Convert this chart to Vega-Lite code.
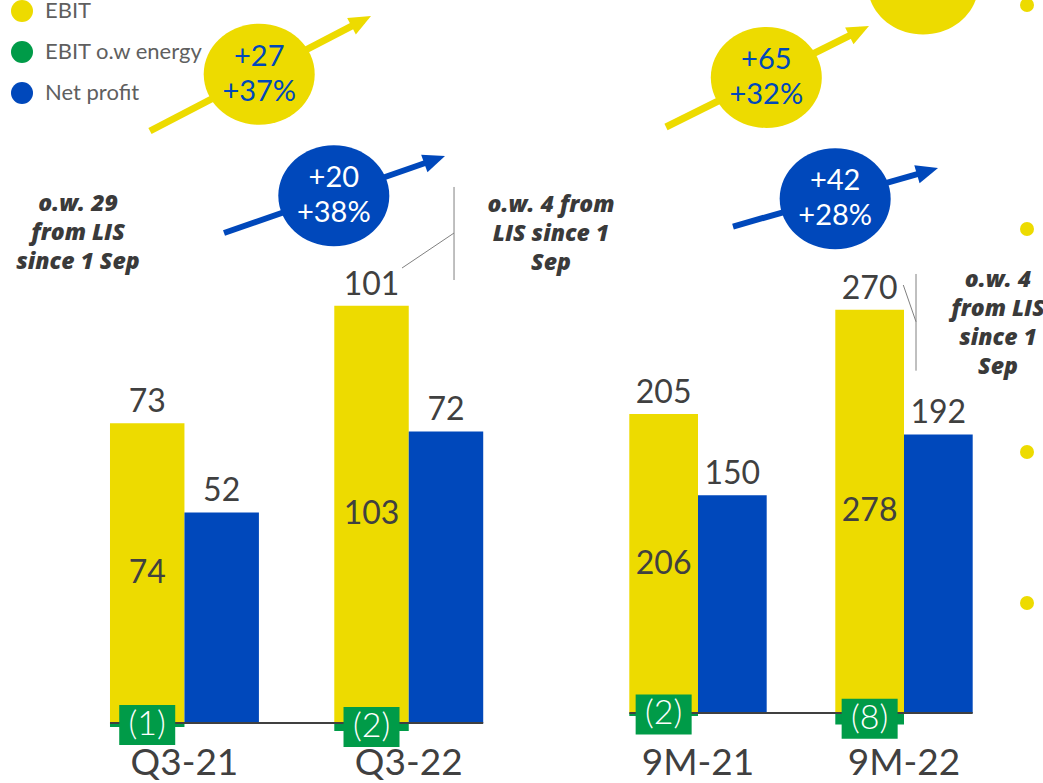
{
  "$schema": "https://vega.github.io/schema/vega-lite/v6.json",
  "background": "white",
  "padding": 0,
  "spacing": 0,
  "bounds": "flush",
  "config": {"view": {"stroke": null}, "font": "Lato", "text": {"font": "Lato"}},
  "resolve": {"scale": {"color": "shared"}, "legend": {"color": "shared"}},
  "datasets": {
    "left": [
      {"period": "Q3-21", "bar": "EBIT", "series": "EBIT", "value": 74, "label": 73},
      {"period": "Q3-21", "bar": "EBIT", "series": "EBIT o.w energy", "value": -1, "label": -1},
      {"period": "Q3-21", "bar": "Net profit", "series": "Net profit", "value": 52, "label": 52},
      {"period": "Q3-22", "bar": "EBIT", "series": "EBIT", "value": 103, "label": 101},
      {"period": "Q3-22", "bar": "EBIT", "series": "EBIT o.w energy", "value": -2, "label": -2},
      {"period": "Q3-22", "bar": "Net profit", "series": "Net profit", "value": 72, "label": 72}
    ],
    "right": [
      {"period": "9M-21", "bar": "EBIT", "series": "EBIT", "value": 206, "label": 205},
      {"period": "9M-21", "bar": "EBIT", "series": "EBIT o.w energy", "value": -2, "label": -2},
      {"period": "9M-21", "bar": "Net profit", "series": "Net profit", "value": 150, "label": 150},
      {"period": "9M-22", "bar": "EBIT", "series": "EBIT", "value": 278, "label": 270},
      {"period": "9M-22", "bar": "EBIT", "series": "EBIT o.w energy", "value": -8, "label": -8},
      {"period": "9M-22", "bar": "Net profit", "series": "Net profit", "value": 192, "label": 192}
    ],
    "leftNotes": [
      {"kind": "arrow", "series": "EBIT", "ax": 24.19, "ay": 16.73, "bx": 58.58, "by": 2.57},
      {"kind": "arrow", "series": "Net profit", "ax": 36.13, "ay": 29.76, "bx": 70.44, "by": 20.31},
      {"kind": "bubble", "series": "EBIT", "ax": 41.81, "ay": 9.48, "text": "+27\n+37%"},
      {"kind": "bubble", "series": "Net profit", "ax": 53.84, "ay": 25.01, "text": "+20\n+38%"},
      {"kind": "note", "ax": 12.58, "ay": 26.05, "text": "o.w. 29\nfrom LIS\nsince 1 Sep"},
      {"kind": "note", "ax": 88.87, "ay": 26.18, "text": "o.w. 4 from\nLIS since 1\nSep"},
      {"kind": "leader", "ax": 73.23, "ay": 23.88, "bx": 73.23, "by": 35.76},
      {"kind": "leader", "ax": 64.84, "ay": 34.23, "bx": 73.23, "by": 29.76}
    ],
    "rightNotes": [
      {"kind": "arrow", "series": "EBIT", "ax": 10.87, "ay": 16.22, "bx": 57.0, "by": 3.83},
      {"kind": "arrow", "series": "Net profit", "ax": 26.71, "ay": 28.93, "bx": 73.19, "by": 21.78},
      {"kind": "bubble", "series": "EBIT", "ax": 34.59, "ay": 9.9, "text": "+65\n+32%"},
      {"kind": "bubble", "series": "Net profit", "ax": 50.87, "ay": 25.39, "text": "+42\n+28%"},
      {"kind": "bubble", "series": "EBIT", "ax": 71.63, "ay": -2.04, "text": ""},
      {"kind": "dot", "ax": 96.22, "ay": 0.64},
      {"kind": "dot", "ax": 96.22, "ay": 29.25},
      {"kind": "dot", "ax": 96.22, "ay": 57.73},
      {"kind": "dot", "ax": 96.22, "ay": 77.01},
      {"kind": "note", "ax": 89.36, "ay": 35.76, "text": "o.w. 4\nfrom LIS\nsince 1\nSep"},
      {"kind": "leader", "ax": 69.98, "ay": 34.99, "bx": 69.98, "by": 47.34},
      {"kind": "leader", "ax": 66.97, "ay": 36.4, "bx": 69.98, "by": 41.09}
    ]
  },
  "hconcat": [
    {
      "width": 620,
      "height": 783,
      "resolve": {"scale": {"x": "independent", "y": "independent", "xOffset": "independent"}},
      "layer": [
        {
          "data": {"name": "left"},
          "layer": [
            {
              "mark": {"type": "bar"},
              "encoding": {
                "x": {"field": "period", "type": "nominal", "scale": {"type": "band", "domain": ["Q3-21", "Q3-22"], "paddingInner": 0.336, "paddingOuter": 0.5501, "align": 0.4457}, "axis": null},
                "xOffset": {"field": "bar", "type": "nominal", "scale": {"type": "band", "domain": ["EBIT", "Net profit"], "paddingInner": 0, "paddingOuter": 0}},
                "y": {"field": "value", "type": "quantitative", "scale": {"domain": [-14.815, 178.52], "nice": false, "zero": false}, "axis": null},
                "color": {"field": "series", "type": "nominal",
                  "scale": {"domain": ["EBIT", "EBIT o.w energy", "Net profit"], "range": ["#EDDB00", "#009B48", "#0048BB"]},
                  "legend": {"orient": "none", "legendX": 11, "legendY": 0, "title": null, "symbolType": "circle", "symbolSize": 484, "symbolStrokeWidth": 0, "labelFontSize": 22, "labelFont": "Lato", "labelColor": "#5f5f5f", "rowPadding": 19, "labelOffset": 12, "padding": 0}}
              }
            },
            {
              "transform": [{"aggregate": [{"op": "count", "as": "n"}]}],
              "mark": {"type": "rule", "color": "#404040", "strokeWidth": 2},
              "encoding": {
                "x": {"datum": "Q3-21", "type": "nominal", "bandPosition": 0, "axis": null},
                "x2": {"datum": "Q3-22", "bandPosition": 1},
                "y": {"datum": 0, "type": "quantitative", "axis": null}
              }
            },
            {
              "transform": [{"filter": "datum.series != 'EBIT o.w energy'"}],
              "mark": {"type": "text", "baseline": "alphabetic", "dy": -11, "fontSize": 32, "color": "#404040"},
              "encoding": {
                "x": {"field": "period", "type": "nominal", "axis": null},
                "xOffset": {"field": "bar", "type": "nominal"},
                "y": {"field": "value", "type": "quantitative", "axis": null},
                "text": {"field": "label", "type": "quantitative"}
              }
            },
            {
              "transform": [{"filter": "datum.series == 'EBIT'"}],
              "mark": {"type": "text", "baseline": "alphabetic", "fontSize": 37, "color": "#404040", "clip": true},
              "encoding": {
                "x": {"field": "period", "type": "nominal", "axis": null},
                "y": {"datum": -12.84, "type": "quantitative", "axis": null},
                "text": {"field": "period", "type": "nominal"}
              }
            }
          ]
        },
        {
          "data": {"name": "left"},
          "encoding": {
            "x": {"field": "period", "type": "nominal", "scale": {"type": "band", "domain": ["Q3-21", "Q3-22"], "paddingInner": 0.336, "paddingOuter": 0.5501, "align": 0.4457}, "axis": null},
            "xOffset": {"field": "bar", "type": "nominal", "scale": {"type": "band", "domain": ["EBIT", "Net profit"], "paddingInner": 0, "paddingOuter": 0}},
            "y": {"field": "value", "type": "quantitative", "scale": {"domain": [-29.63, 357.04], "nice": false, "zero": false}, "axis": null}
          },
          "layer": [
            {
              "transform": [{"filter": "datum.series == 'EBIT'"}],
              "mark": {"type": "text", "baseline": "middle", "fontSize": 32, "color": "#404040"},
              "encoding": {"text": {"field": "value", "type": "quantitative"}}
            },
            {
              "transform": [{"filter": "datum.series == 'EBIT o.w energy'"}],
              "mark": {"type": "point", "shape": "M-1,-0.714L1,-0.714L1,0.714L-1,0.714Z", "size": 3136, "filled": true, "color": "#009B48", "opacity": 1, "strokeWidth": 0}
            },
            {
              "transform": [{"filter": "datum.series == 'EBIT o.w energy'"}],
              "mark": {"type": "text", "baseline": "middle", "fontSize": 34, "fontWeight": 300, "color": "white"},
              "encoding": {"text": {"field": "value", "type": "quantitative", "format": "(d"}}
            }
          ]
        },
        {
          "data": {"name": "leftNotes"},
          "encoding": {
            "x": {"field": "ax", "type": "quantitative", "scale": {"domain": [0, 100], "nice": false, "zero": false}, "axis": null},
            "y": {"field": "ay", "type": "quantitative", "scale": {"domain": [0, 100], "reverse": true, "nice": false, "zero": false}, "axis": null}
          },
          "layer": [
            {
              "transform": [{"filter": "datum.kind == 'arrow' && datum.series == 'EBIT'"}],
              "mark": {"type": "rule", "color": "#EDDB00", "strokeWidth": 7},
              "encoding": {"x2": {"field": "bx"}, "y2": {"field": "by"}}
            },
            {
              "transform": [{"filter": "datum.kind == 'arrow' && datum.series == 'Net profit'"}],
              "mark": {"type": "rule", "color": "#0048BB", "strokeWidth": 6},
              "encoding": {"x2": {"field": "bx"}, "y2": {"field": "by"}}
            },
            {
              "transform": [{"filter": "datum.kind == 'arrow' && datum.series == 'EBIT'"}],
              "mark": {"type": "point", "shape": "M0.8,0L-1.2,-0.85L-1.2,0.85Z", "size": 484, "filled": true, "color": "#EDDB00", "opacity": 1, "strokeWidth": 0, "angle": 332.32},
              "encoding": {
                "x": {"field": "bx", "type": "quantitative", "axis": null},
                "y": {"field": "by", "type": "quantitative", "axis": null}
              }
            },
            {
              "transform": [{"filter": "datum.kind == 'arrow' && datum.series == 'Net profit'"}],
              "mark": {"type": "point", "shape": "M0.8,0L-1.2,-0.85L-1.2,0.85Z", "size": 484, "filled": true, "color": "#0048BB", "opacity": 1, "strokeWidth": 0, "angle": 340.27},
              "encoding": {
                "x": {"field": "bx", "type": "quantitative", "axis": null},
                "y": {"field": "by", "type": "quantitative", "axis": null}
              }
            },
            {
              "transform": [{"filter": "datum.kind == 'bubble' && datum.series == 'EBIT'"}],
              "mark": {"type": "point", "shape": "M-1,0C-1,-0.5026,-0.5523,-0.91,0,-0.91C0.5523,-0.91,1,-0.5026,1,0C1,0.5026,0.5523,0.91,0,0.91C-0.5523,0.91,-1,0.5026,-1,0Z", "size": 12321, "filled": true, "color": "#EDDB00", "opacity": 1, "strokeWidth": 0}
            },
            {
              "transform": [{"filter": "datum.kind == 'bubble' && datum.series == 'Net profit'"}],
              "mark": {"type": "point", "shape": "M-1,0C-1,-0.5026,-0.5523,-0.91,0,-0.91C0.5523,-0.91,1,-0.5026,1,0C1,0.5026,0.5523,0.91,0,0.91C-0.5523,0.91,-1,0.5026,-1,0Z", "size": 12321, "filled": true, "color": "#0048BB", "opacity": 1, "strokeWidth": 0}
            },
            {
              "transform": [{"filter": "datum.kind == 'bubble' && datum.series == 'EBIT'"}],
              "mark": {"type": "text", "baseline": "middle", "align": "center", "fontSize": 29, "lineBreak": "\n", "lineHeight": 35, "dy": -17.5, "color": "#0048BB"},
              "encoding": {"text": {"field": "text", "type": "nominal"}}
            },
            {
              "transform": [{"filter": "datum.kind == 'bubble' && datum.series == 'Net profit'"}],
              "mark": {"type": "text", "baseline": "middle", "align": "center", "fontSize": 29, "lineBreak": "\n", "lineHeight": 35, "dy": -17.5, "color": "white"},
              "encoding": {"text": {"field": "text", "type": "nominal"}}
            },
            {
              "transform": [{"filter": "datum.kind == 'note'"}],
              "mark": {"type": "text", "baseline": "middle", "align": "center", "font": "Open Sans", "fontSize": 23, "fontWeight": 800, "fontStyle": "italic", "lineBreak": "\n", "lineHeight": 29, "color": "#3a3a3a"},
              "encoding": {"text": {"field": "text", "type": "nominal"}}
            },
            {
              "transform": [{"filter": "datum.kind == 'leader'"}],
              "mark": {"type": "rule", "color": "#808080", "strokeWidth": 1},
              "encoding": {"x2": {"field": "bx"}, "y2": {"field": "by"}}
            }
          ]
        }
      ]
    },
    {
      "width": 423,
      "height": 783,
      "resolve": {"scale": {"x": "independent", "y": "independent", "xOffset": "independent"}},
      "layer": [
        {
          "data": {"name": "right"},
          "layer": [
            {
              "mark": {"type": "bar"},
              "encoding": {
                "x": {"field": "period", "type": "nominal", "scale": {"type": "band", "domain": ["9M-21", "9M-22"], "paddingInner": 0.333, "paddingOuter": 0.1932, "align": 0.1168}, "axis": null},
                "xOffset": {"field": "bar", "type": "nominal", "scale": {"type": "band", "domain": ["EBIT", "Net profit"], "paddingInner": 0, "paddingOuter": 0}},
                "y": {"field": "value", "type": "quantitative", "scale": {"domain": [-48.24, 491.39], "nice": false, "zero": false}, "axis": null},
                "color": {"field": "series", "type": "nominal",
                  "scale": {"domain": ["EBIT", "EBIT o.w energy", "Net profit"], "range": ["#EDDB00", "#009B48", "#0048BB"]},
                  "legend": {"orient": "none", "legendX": 11, "legendY": 0, "title": null, "symbolType": "circle", "symbolSize": 484, "symbolStrokeWidth": 0, "labelFontSize": 22, "labelFont": "Lato", "labelColor": "#5f5f5f", "rowPadding": 19, "labelOffset": 12, "padding": 0}}
              }
            },
            {
              "transform": [{"aggregate": [{"op": "count", "as": "n"}]}],
              "mark": {"type": "rule", "color": "#404040", "strokeWidth": 2},
              "encoding": {
                "x": {"datum": "9M-21", "type": "nominal", "bandPosition": 0, "axis": null},
                "x2": {"datum": "9M-22", "bandPosition": 1},
                "y": {"datum": 0, "type": "quantitative", "axis": null}
              }
            },
            {
              "transform": [{"filter": "datum.series != 'EBIT o.w energy'"}],
              "mark": {"type": "text", "baseline": "alphabetic", "dy": -11, "fontSize": 32, "color": "#404040"},
              "encoding": {
                "x": {"field": "period", "type": "nominal", "axis": null},
                "xOffset": {"field": "bar", "type": "nominal"},
                "y": {"field": "value", "type": "quantitative", "axis": null},
                "text": {"field": "label", "type": "quantitative"}
              }
            },
            {
              "transform": [{"filter": "datum.series == 'EBIT'"}],
              "mark": {"type": "text", "baseline": "alphabetic", "fontSize": 37, "color": "#404040", "clip": true},
              "encoding": {
                "x": {"field": "period", "type": "nominal", "axis": null},
                "y": {"datum": -42.73, "type": "quantitative", "axis": null},
                "text": {"field": "period", "type": "nominal"}
              }
            }
          ]
        },
        {
          "data": {"name": "right"},
          "encoding": {
            "x": {"field": "period", "type": "nominal", "scale": {"type": "band", "domain": ["9M-21", "9M-22"], "paddingInner": 0.333, "paddingOuter": 0.1932, "align": 0.1168}, "axis": null},
            "xOffset": {"field": "bar", "type": "nominal", "scale": {"type": "band", "domain": ["EBIT", "Net profit"], "paddingInner": 0, "paddingOuter": 0}},
            "y": {"field": "value", "type": "quantitative", "scale": {"domain": [-96.48, 982.78], "nice": false, "zero": false}, "axis": null}
          },
          "layer": [
            {
              "transform": [{"filter": "datum.series == 'EBIT'"}],
              "mark": {"type": "text", "baseline": "middle", "fontSize": 32, "color": "#404040"},
              "encoding": {"text": {"field": "value", "type": "quantitative"}}
            },
            {
              "transform": [{"filter": "datum.series == 'EBIT o.w energy'"}],
              "mark": {"type": "point", "shape": "M-1,-0.714L1,-0.714L1,0.714L-1,0.714Z", "size": 3136, "filled": true, "color": "#009B48", "opacity": 1, "strokeWidth": 0}
            },
            {
              "transform": [{"filter": "datum.series == 'EBIT o.w energy'"}],
              "mark": {"type": "text", "baseline": "middle", "fontSize": 34, "fontWeight": 300, "color": "white"},
              "encoding": {"text": {"field": "value", "type": "quantitative", "format": "(d"}}
            }
          ]
        },
        {
          "data": {"name": "rightNotes"},
          "encoding": {
            "x": {"field": "ax", "type": "quantitative", "scale": {"domain": [0, 100], "nice": false, "zero": false}, "axis": null},
            "y": {"field": "ay", "type": "quantitative", "scale": {"domain": [0, 100], "reverse": true, "nice": false, "zero": false}, "axis": null}
          },
          "layer": [
            {
              "transform": [{"filter": "datum.kind == 'arrow' && datum.series == 'EBIT'"}],
              "mark": {"type": "rule", "color": "#EDDB00", "strokeWidth": 7, "clip": true},
              "encoding": {"x2": {"field": "bx"}, "y2": {"field": "by"}}
            },
            {
              "transform": [{"filter": "datum.kind == 'arrow' && datum.series == 'Net profit'"}],
              "mark": {"type": "rule", "color": "#0048BB", "strokeWidth": 6, "clip": true},
              "encoding": {"x2": {"field": "bx"}, "y2": {"field": "by"}}
            },
            {
              "transform": [{"filter": "datum.kind == 'arrow' && datum.series == 'EBIT'"}],
              "mark": {"type": "point", "shape": "M0.8,0L-1.2,-0.85L-1.2,0.85Z", "size": 484, "filled": true, "color": "#EDDB00", "opacity": 1, "strokeWidth": 0, "angle": 333.32, "clip": true},
              "encoding": {
                "x": {"field": "bx", "type": "quantitative", "axis": null},
                "y": {"field": "by", "type": "quantitative", "axis": null}
              }
            },
            {
              "transform": [{"filter": "datum.kind == 'arrow' && datum.series == 'Net profit'"}],
              "mark": {"type": "point", "shape": "M0.8,0L-1.2,-0.85L-1.2,0.85Z", "size": 484, "filled": true, "color": "#0048BB", "opacity": 1, "strokeWidth": 0, "angle": 343.51, "clip": true},
              "encoding": {
                "x": {"field": "bx", "type": "quantitative", "axis": null},
                "y": {"field": "by", "type": "quantitative", "axis": null}
              }
            },
            {
              "transform": [{"filter": "datum.kind == 'bubble' && datum.series == 'EBIT'"}],
              "mark": {"type": "point", "shape": "M-1,0C-1,-0.5026,-0.5523,-0.91,0,-0.91C0.5523,-0.91,1,-0.5026,1,0C1,0.5026,0.5523,0.91,0,0.91C-0.5523,0.91,-1,0.5026,-1,0Z", "size": 12321, "filled": true, "color": "#EDDB00", "opacity": 1, "strokeWidth": 0, "clip": true}
            },
            {
              "transform": [{"filter": "datum.kind == 'bubble' && datum.series == 'Net profit'"}],
              "mark": {"type": "point", "shape": "M-1,0C-1,-0.5026,-0.5523,-0.91,0,-0.91C0.5523,-0.91,1,-0.5026,1,0C1,0.5026,0.5523,0.91,0,0.91C-0.5523,0.91,-1,0.5026,-1,0Z", "size": 12321, "filled": true, "color": "#0048BB", "opacity": 1, "strokeWidth": 0, "clip": true}
            },
            {
              "transform": [{"filter": "datum.kind == 'dot'"}],
              "mark": {"type": "point", "shape": "circle", "size": 196, "filled": true, "color": "#EDDB00", "opacity": 1, "strokeWidth": 0, "clip": true}
            },
            {
              "transform": [{"filter": "datum.kind == 'bubble' && datum.series == 'EBIT' && datum.text != ''"}],
              "mark": {"type": "text", "baseline": "middle", "align": "center", "fontSize": 29, "lineBreak": "\n", "lineHeight": 35, "dy": -17.5, "color": "#0048BB", "clip": true},
              "encoding": {"text": {"field": "text", "type": "nominal"}}
            },
            {
              "transform": [{"filter": "datum.kind == 'bubble' && datum.series == 'Net profit'"}],
              "mark": {"type": "text", "baseline": "middle", "align": "center", "fontSize": 29, "lineBreak": "\n", "lineHeight": 35, "dy": -17.5, "color": "white", "clip": true},
              "encoding": {"text": {"field": "text", "type": "nominal"}}
            },
            {
              "transform": [{"filter": "datum.kind == 'note'"}],
              "mark": {"type": "text", "baseline": "middle", "align": "center", "font": "Open Sans", "fontSize": 23, "fontWeight": 800, "fontStyle": "italic", "lineBreak": "\n", "lineHeight": 29, "color": "#3a3a3a", "clip": true},
              "encoding": {"text": {"field": "text", "type": "nominal"}}
            },
            {
              "transform": [{"filter": "datum.kind == 'leader'"}],
              "mark": {"type": "rule", "color": "#808080", "strokeWidth": 1, "clip": true},
              "encoding": {"x2": {"field": "bx"}, "y2": {"field": "by"}}
            }
          ]
        }
      ]
    }
  ]
}
